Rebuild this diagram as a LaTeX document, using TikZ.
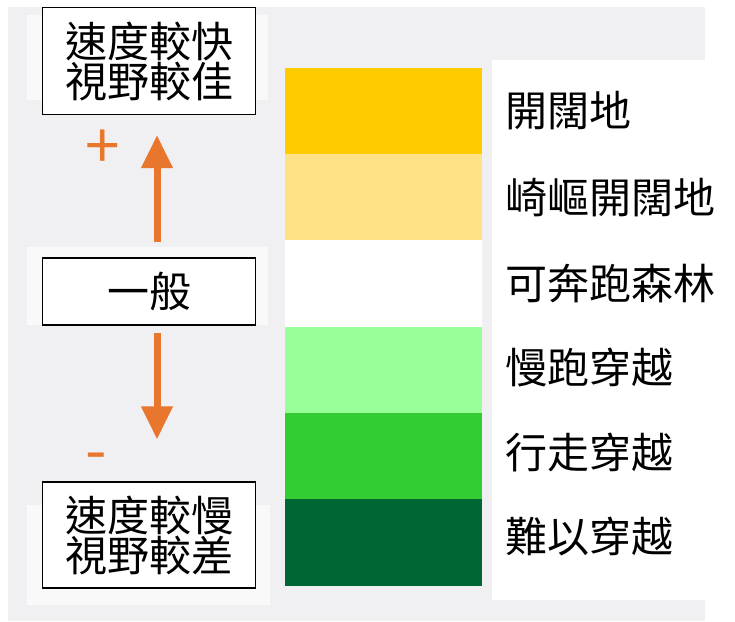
\documentclass[tikz,border=0pt]{standalone}
\usepackage{fontspec}
\newfontfamily\cjk{Noto Sans CJK TC}
\usetikzlibrary{positioning,arrows.meta}
\definecolor{bggray}{HTML}{F0F0F2}
\definecolor{bandwhite}{HTML}{F9F9FA}
\definecolor{arrorange}{HTML}{E8762D}
\definecolor{gold}{HTML}{FFCC00}
\definecolor{paleyellow}{HTML}{FFE285}
\definecolor{palegreen}{HTML}{99FF99}
\definecolor{midgreen}{HTML}{33CC33}
\definecolor{darkgreen}{HTML}{006633}

\begin{document}
\begin{tikzpicture}[x=1pt,y=-1pt,
    every node/.style={font=\cjk\fontsize{42}{40}\selectfont},
    speedbox/.style={draw, line width=1.2pt, fill=white, minimum width=213pt, align=center, inner sep=0pt},
    band/.style={minimum width=197pt, minimum height=86.3pt, inner sep=0pt, outer sep=0pt},
    terrain/.style={inner sep=0pt},
    trend/.style={draw=arrorange, line width=7pt, -{Triangle[width=30pt,length=33pt]}},
    sign/.style={text=arrorange, inner sep=0pt, font=\cjk\fontsize{62}{62}\selectfont}]
        \useasboundingbox (0,0) rectangle (735,621);
        % background
        \fill[bggray] (8,7) rectangle (705,621);
        \fill[white] (492,60) rectangle (705,600);
        \fill[bandwhite] (27,15) rectangle (268,100);
        \fill[bandwhite] (27,247) rectangle (268,325);
        \fill[bandwhite] (27,505) rectangle (270,605);

        % left scale
        \node[speedbox, minimum height=107pt] (fast) at (149,61) {速度較快\\視野較佳};
        \node[speedbox, minimum height=67pt]  (normal) at (149,291.5) {一般};
        \node[speedbox, minimum height=106pt] (slow) at (149,535) {速度較慢\\視野較差};

        \draw[trend, shorten <=15pt, shorten >=20pt] ([xshift=8pt]normal.north) -- ([xshift=8pt]fast.south);
        \draw[trend, shorten <=7pt, shorten >=42pt] ([xshift=8pt]normal.south) -- ([xshift=8pt]slow.north);

        \node[sign] (plus) at (103,149) {+};
        \node[sign] (minus) at (96,463) {-};

        % colour bands
        \node[band, fill=gold]       (r1) at (383.5,111) {};
        \node[band, fill=paleyellow] (r2) [below=0pt of r1] {};
        \node[band, fill=white]      (r3) [below=0pt of r2] {};
        \node[band, fill=palegreen]  (r4) [below=0pt of r3] {};
        \node[band, fill=midgreen]   (r5) [below=0pt of r4] {};
        \node[band, fill=darkgreen]  (r6) [below=0pt of r5] {};

        \node[terrain] (t1) [right=23pt of r1] {開闊地};
        \node[terrain] (t2) [right=23pt of r2] {崎嶇開闊地};
        \node[terrain] (t3) [right=23pt of r3] {可奔跑森林};
        \node[terrain, yshift=2pt] (t4) [right=23pt of r4] {慢跑穿越};
        \node[terrain, yshift=4pt] (t5) [right=23pt of r5] {行走穿越};
        \node[terrain, yshift=6pt] (t6) [right=23pt of r6] {難以穿越};
\end{tikzpicture}
\end{document}
